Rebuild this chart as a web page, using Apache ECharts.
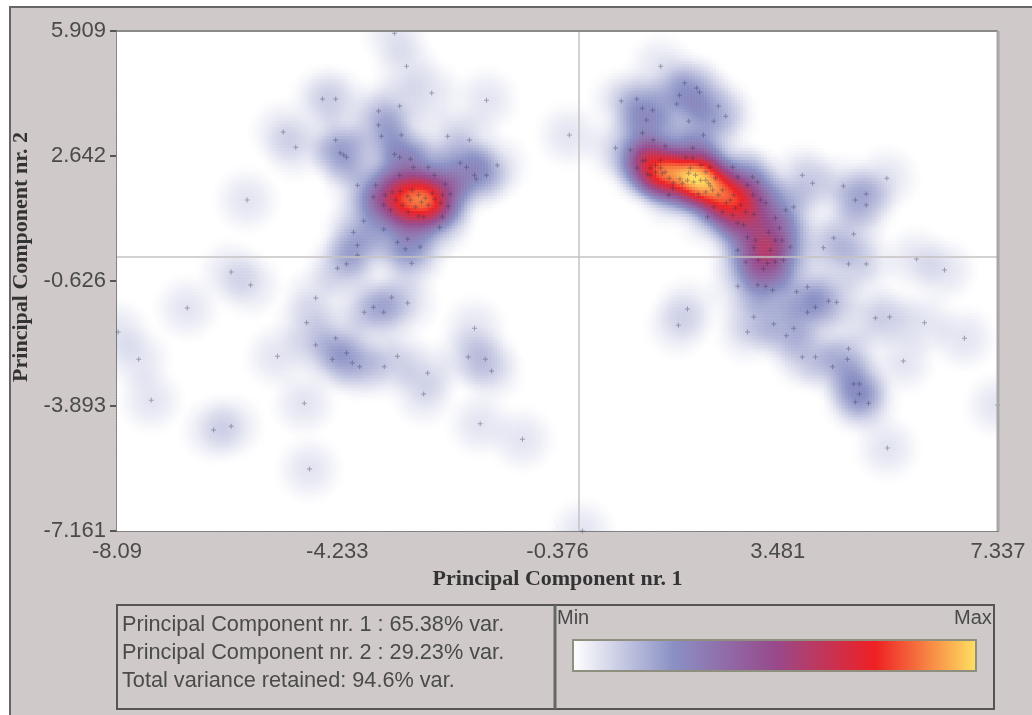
<!DOCTYPE html>
<html><head><meta charset="utf-8">
<style>html,body{margin:0;padding:0;background:#fff}#c{width:1032px;height:715px;filter:blur(0.6px)}</style>
<script src="https://cdn.jsdelivr.net/npm/echarts@6/dist/echarts.min.js"></script>
</head><body><div id="c"></div>
<script>
const xTicks = [-8.09, -4.233, -0.376, 3.481, 7.337];
const yTicks = [-7.161, -3.893, -0.626, 2.642, 5.909];
const varianceLines = ['Principal Component nr. 1 : 65.38% var.', 'Principal Component nr. 2 : 29.23% var.', 'Total variance retained: 94.6% var.'];
const scaleStops = ['#ffffff', '#8a90c4', '#974a8c', '#ee2024', '#ffe060'];
const upperLeftScores = [[-4.49,4.13],[-4.26,4.13],[-5.18,3.27],[-4.96,2.87],[-4.26,3.06],[-4.18,2.72],[-5.81,1.49],[-6.09,-0.39],[-5.75,-0.73],[-4.23,-0.29],[-3.23,5.85],[-3.02,4.99],[-2.58,4.29],[-1.62,4.10],[-3.51,3.82],[-3.14,3.95],[-3.51,3.45],[-3.46,3.16],[-3.11,3.19],[-2.30,3.16],[-1.92,3.06],[-4.12,2.67],[-4.07,2.61],[-3.23,2.69],[-3.14,2.61],[-2.95,2.56],[-2.90,2.35],[-2.64,2.35],[-1.97,2.35],[-2.08,2.46],[-1.43,2.40],[-1.83,2.14],[-1.80,2.04],[-1.62,2.14]];
const leftCoreScores = [[-3.14,2.14],[-2.53,2.14],[-2.34,1.91],[-2.25,1.65],[-2.29,1.33],[-2.39,1.05],[-2.72,1.05],[-2.81,1.07],[-3.88,1.88],[-3.60,1.57],[-3.56,1.88],[-3.27,1.70],[-3.13,1.72],[-3.00,1.59],[-2.57,1.67],[-2.53,1.52],[-2.76,1.44],[-2.64,1.36],[-2.86,1.31],[-2.99,1.18],[-3.30,1.23],[-3.42,1.36],[-2.39,1.62],[-3.21,1.49],[-2.95,1.49],[-2.81,1.62],[-3.09,1.36],[-2.69,1.54],[-2.92,1.75],[-3.39,1.62],[-2.42,1.41],[-3.77,0.94],[-3.42,0.73],[-2.44,0.78],[-3.95,0.65],[-3.18,0.39],[-3.00,0.47],[-3.88,0.31],[-3.04,0.21],[-2.78,0.26],[-3.88,0.05],[-4.07,-0.18],[-2.93,-0.16]];
const lowerLeftScores = [[-6.86,-1.33],[-8.07,-1.96],[-7.71,-2.67],[-7.49,-3.74],[-6.40,-4.52],[-6.09,-4.42],[-5.28,-2.59],[-4.81,-3.82],[-4.72,-5.54],[-4.61,-1.07],[-4.77,-1.72],[-4.61,-2.30],[-4.26,-2.12],[-4.32,-2.67],[-4.07,-2.51],[-3.97,-2.77],[-3.84,-2.87],[-3.41,-2.87],[-3.18,-2.59],[-3.76,-1.44],[-3.60,-1.31],[-3.42,-1.44],[-3.28,-1.05],[-3.00,-1.20],[-2.65,-3.03],[-2.72,-3.58],[-1.83,-1.86],[-1.94,-2.61],[-1.64,-2.67],[-1.53,-2.98],[-1.73,-4.36],[-0.99,-4.76],[-0.17,3.19],[0.06,-7.16]];
const rightCoreScores = [[1.43,4.99],[0.74,4.08],[1.01,4.13],[1.11,3.89],[1.29,3.84],[1.85,4.55],[1.76,4.23],[2.06,4.42],[2.11,4.31],[1.71,4.00],[2.44,3.95],[2.57,3.68],[2.36,3.55],[1.92,3.55],[1.18,3.58],[1.11,3.24],[2.18,3.19],[0.64,2.85],[0.90,2.80],[1.99,2.85],[1.51,2.90],[1.30,3.06],[1.11,2.51],[1.20,2.17],[1.02,2.33],[1.34,2.40],[1.43,2.33],[1.46,2.19],[1.92,2.19],[1.87,2.61],[1.99,2.59],[1.65,1.93],[1.81,1.93],[2.01,1.96],[1.64,1.80],[1.57,1.62],[2.22,1.70],[2.27,1.93],[2.09,1.65],[2.30,2.35],[2.69,2.35],[2.78,2.09],[3.04,2.09],[2.95,1.88],[3.13,1.96],[2.71,1.62],[3.18,1.49],[3.27,1.41],[2.36,1.31],[2.51,1.18],[2.69,1.10],[3.06,1.12],[2.25,1.05],[3.44,1.02],[2.78,0.89],[2.88,0.84],[3.51,0.76],[3.62,1.23],[3.76,1.31],[3.56,0.44],[3.70,0.26],[2.95,0.52],[2.78,0.18],[3.06,0.24],[3.14,-0.08],[3.58,-0.08],[3.30,-0.16],[3.23,-0.31],[1.25,2.33],[1.51,2.22],[1.77,2.04],[1.90,2.01],[2.04,2.14],[1.34,2.22],[1.58,2.06],[2.13,2.01],[1.95,2.33],[2.22,2.22],[1.43,2.53],[2.13,2.40],[2.39,2.06],[2.51,1.75],[2.65,1.49],[2.83,1.36],[2.58,1.41],[2.92,1.18],[2.74,1.28],[3.04,1.62],[2.44,1.62],[2.34,1.75],[1.16,2.53],[1.25,2.14],[2.30,1.86],[2.22,2.01],[3.09,0.44],[3.35,0.18],[3.32,0.65],[2.92,-0.13],[3.44,-0.13],[3.44,0.44]];
const lowerRightScores = [[2.78,-0.76],[3.13,-0.73],[3.27,-0.76],[3.39,-0.86],[3.06,-1.57],[3.41,-1.75],[2.95,-1.96],[1.90,-1.36],[1.74,-1.78],[3.91,2.14],[4.09,1.93],[4.63,1.86],[5.39,2.06],[4.84,1.49],[5.03,1.65],[5.03,1.36],[4.81,0.60],[4.46,0.50],[4.28,0.24],[4.72,-0.18],[5.03,-0.18],[5.91,-0.05],[6.40,-0.34],[4.00,-0.78],[3.81,-0.91],[4.37,-1.15],[4.51,-1.18],[4.14,-1.31],[4.00,-1.44],[5.19,-1.59],[5.44,-1.57],[6.05,-1.72],[3.76,-1.86],[3.63,-2.06],[6.75,-2.12],[4.72,-2.40],[4.70,-2.67],[3.91,-2.61],[4.14,-2.61],[4.44,-2.87],[5.68,-2.72],[4.81,-3.32],[4.91,-3.32],[4.91,-3.58],[4.84,-3.79],[5.07,-3.82],[7.33,-3.87],[5.40,-4.99]];
const scores = [...upperLeftScores, ...leftCoreScores, ...lowerLeftScores, ...rightCoreScores, ...lowerRightScores];

const bandX = 0.68, bandY = 1.02, cols = 294, rows = 167;
const xMin = xTicks[0], xMax = xTicks[4], yMin = yTicks[0], yMax = yTicks[4];
const xCats = [], yCats = [], density = [];
for (let i = 0; i < cols; i++) xCats.push(i);
for (let j = 0; j < rows; j++) yCats.push(j);
let peak = 0;
for (let i = 0; i < cols; i++) {
  const x = xMin + (i + .5) / cols * (xMax - xMin);
  for (let j = 0; j < rows; j++) {
    const y = yMin + (j + .5) / rows * (yMax - yMin);
    let d = 0;
    for (const p of scores) {
      const a = (x - p[0]) / bandX, b = (y - p[1]) / bandY, r = a * a + b * b;
      if (r < 1) d += (1 - r) * (1 - r);
    }
    if (d > peak) peak = d;
    density.push([i, j, d]);
  }
}

const sans = '"Liberation Sans", Arial, sans-serif';
const serif = '"Liberation Serif", serif';
const txt = (x, y, text, size, extra) => ({type:'text', z:12, x, y, style:Object.assign({text, fill:'#4a4a4a', font:size+'px '+sans, textVerticalAlign:'middle'}, extra||{})});
const line = (x1,y1,x2,y2,w,c) => ({type:'line', z:11, shape:{x1,y1,x2,y2}, style:{stroke:c||'#555', lineWidth:w||2}});

const chart = echarts.init(document.getElementById('c'), null, {renderer:'canvas'});
chart.setOption({
  animation:false,
  backgroundColor:'#fff',
  grid:{left:117, top:31, width:881, height:500, show:true, backgroundColor:'#fff', borderWidth:0},
  xAxis:[
    {type:'category', data:xCats, show:false, gridIndex:0},
    {type:'value', min:xMin, max:xMax, gridIndex:0, position:'bottom', splitLine:{show:false},
     axisLine:{show:true, onZero:false, lineStyle:{color:'#555', width:2}},
     axisTick:{show:true, customValues:xTicks, length:7, inside:true, lineStyle:{color:'#555', width:2}},
     axisLabel:{show:true, customValues:xTicks, color:'#4a4a4a', fontFamily:sans, fontSize:22, margin:10, hideOverlap:false, showMinLabel:true, showMaxLabel:true, formatter:v=>String(v)},
     name:'Principal Component nr. 1', nameLocation:'middle', nameGap:36,
     nameTextStyle:{fontFamily:serif, fontWeight:'bold', fontSize:22, color:'#333'}}
  ],
  yAxis:[
    {type:'category', data:yCats, show:false, gridIndex:0},
    {type:'value', min:yMin, max:yMax, gridIndex:0, position:'left', splitLine:{show:false},
     axisLine:{show:true, onZero:false, lineStyle:{color:'#555', width:2}},
     axisTick:{show:true, customValues:yTicks, length:7, lineStyle:{color:'#555', width:2}},
     axisLabel:{show:true, customValues:yTicks, color:'#4a4a4a', fontFamily:sans, fontSize:22, margin:11, hideOverlap:false, showMinLabel:true, showMaxLabel:true, formatter:v=>String(v)},
     name:'Principal Component nr. 2', nameLocation:'middle', nameGap:68, nameRotate:90,
     nameTextStyle:{fontFamily:serif, fontWeight:'bold', fontSize:22, color:'#333', padding:[0,0,0,48]}}
  ],
  visualMap:{type:'continuous', min:0, max:peak, seriesIndex:0, calculable:false, realtime:false, hoverLink:false,
    orient:'horizontal', left:573, top:640, itemWidth:31, itemHeight:403, padding:0, text:null, showLabel:false, inverse:false,
    inRange:{color:scaleStops}},
  series:[
    {type:'heatmap', xAxisIndex:0, yAxisIndex:0, data:density, progressive:0, silent:true, itemStyle:{borderWidth:0}, emphasis:{disabled:true}},
    {type:'scatter', xAxisIndex:1, yAxisIndex:1, data:scores, silent:true, symbol:'path://M4 0h2v4h4v2h-4v4h-2v-4h-4v-2h4z', symbolSize:5,
     itemStyle:{color:'rgba(50,50,80,0.5)'}, z:4,
     markLine:{silent:true, symbol:'none', label:{show:false}, lineStyle:{color:'#c4c2c2', width:1.5, type:'solid'}, data:[{xAxis:0},{yAxis:0}], animation:false}}
  ],
  graphic:[
    {type:'rect', z:-1, shape:{x:10,y:7,width:1030,height:720}, style:{fill:'#cfcac9', stroke:'#666', lineWidth:2}},
    line(117,31,998,31,2,'#8a8a8a'),
    line(998,31,998,531,3,'#a8a6a6'),
    {type:'rect', z:10, shape:{x:117,y:605,width:877,height:104}, style:{fill:'none', stroke:'#555', lineWidth:2}},
    line(555,605,555,709,3,'#666'),
    {type:'rect', z:11, shape:{x:573,y:640,width:403,height:31}, style:{fill:'none', stroke:'#8f8f80', lineWidth:2}},
    txt(122,625,varianceLines[0],21.7), txt(122,653,varianceLines[1],21.7), txt(122,681,varianceLines[2],21.7),
    txt(557,618,'Min',20), txt(954,618,'Max',20)
  ]
});
</script></body></html>
